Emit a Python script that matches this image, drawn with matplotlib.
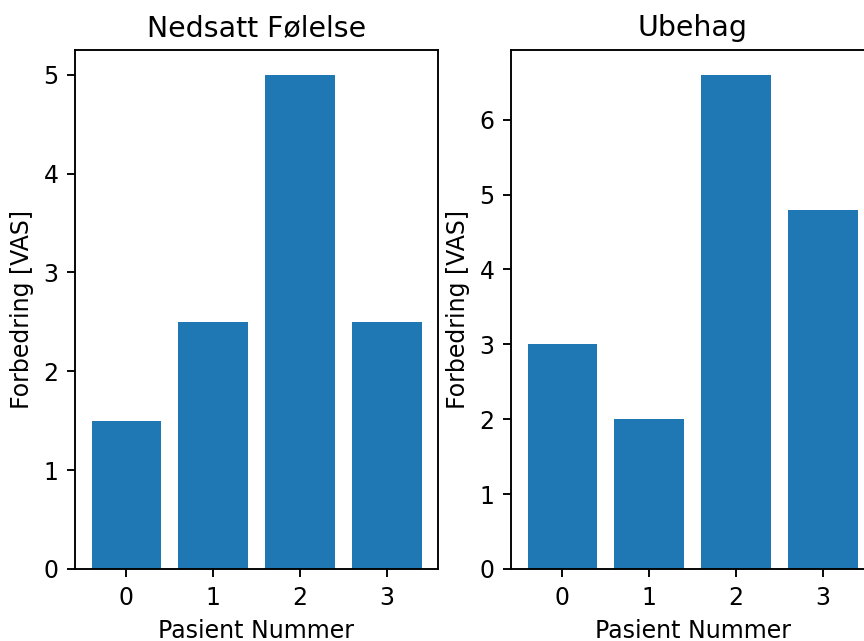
import matplotlib
matplotlib.use("Agg")
import matplotlib.pyplot as plt

pasienter = [0, 1, 2, 3]
nedsatt_folelse = [1.5, 2.5, 5.0, 2.5]
ubehag = [3.0, 2.0, 6.6, 4.8]

DPI = 170
fig = plt.figure(figsize=(864 / DPI, 641 / DPI), dpi=DPI)

# Akser plassert manuelt; høyre panel går litt utenfor bildet som i originalen
ax1 = fig.add_axes([75 / 864, 72 / 641, 363 / 864, 519 / 641])
ax2 = fig.add_axes([511 / 864, 72 / 641, 363 / 864, 519 / 641])

ax1.bar(pasienter, nedsatt_folelse, color="#1f77b4")
ax1.set_title("Nedsatt Følelse")
ax1.set_xlabel("Pasient Nummer")
ax1.set_ylabel("Forbedring [VAS]")
ax1.set_xticks(pasienter)

ax2.bar(pasienter, ubehag, color="#1f77b4")
ax2.set_title("Ubehag")
ax2.set_xlabel("Pasient Nummer")
ax2.set_ylabel("Forbedring [VAS]")
ax2.set_xticks(pasienter)

fig.savefig("out.png", dpi=DPI)
